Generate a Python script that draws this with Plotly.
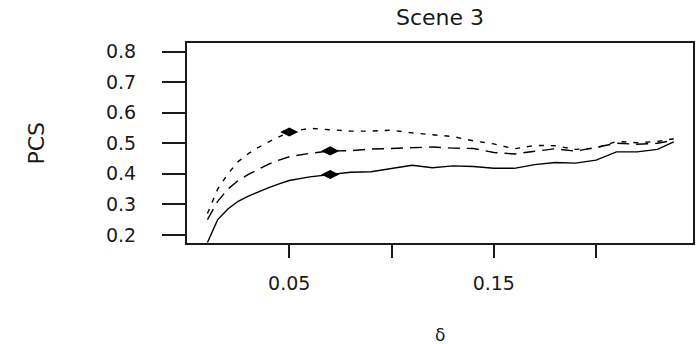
import plotly.graph_objects as go

# ---- data ----
delta = [0.01, 0.015, 0.02, 0.025, 0.03, 0.035, 0.04, 0.045, 0.05, 0.06, 0.07,
         0.08, 0.09, 0.10, 0.11, 0.12, 0.13, 0.14, 0.15, 0.16, 0.17, 0.18,
         0.19, 0.20, 0.21, 0.22, 0.23, 0.238]

pcs_solid = [0.175, 0.25, 0.285, 0.31, 0.327, 0.342, 0.355, 0.367, 0.378, 0.39, 0.398,
             0.405, 0.407, 0.418, 0.428, 0.42, 0.426, 0.424, 0.418, 0.418, 0.43, 0.437,
             0.435, 0.445, 0.472, 0.472, 0.48, 0.505]

pcs_dashed = [0.25, 0.31, 0.35, 0.378, 0.398, 0.415, 0.432, 0.445, 0.456, 0.467, 0.475,
              0.476, 0.481, 0.483, 0.486, 0.488, 0.484, 0.483, 0.47, 0.465, 0.474, 0.482,
              0.474, 0.488, 0.50, 0.497, 0.50, 0.51]

pcs_dotted = [0.27, 0.35, 0.40, 0.44, 0.466, 0.487, 0.505, 0.522, 0.537, 0.549, 0.544,
              0.54, 0.54, 0.543, 0.534, 0.528, 0.522, 0.508, 0.498, 0.482, 0.493, 0.492,
              0.48, 0.484, 0.506, 0.502, 0.506, 0.515]

marker_x = [0.07, 0.07, 0.05]
marker_y = [0.398, 0.475, 0.537]

x_tickvals = [0.05, 0.10, 0.15, 0.20]
x_ticktext = ["0.05", "", "0.15", ""]
y_tickvals = [0.2, 0.3, 0.4, 0.5, 0.6, 0.7, 0.8]
y_ticktext = ["0.2", "0.3", "0.4", "0.5", "0.6", "0.7", "0.8"]

title_text = "Scene 3"
x_label = "δ"
y_label = "PCS"

FONT = "DejaVu Sans"
INK = "#1a1a1a"

fig = go.Figure()
for ys, dash in [(pcs_solid, "solid"), (pcs_dashed, "12px,7px"), (pcs_dotted, "5px,7px")]:
    fig.add_trace(go.Scatter(x=delta, y=ys, mode="lines",
                             line=dict(color="black", width=1.4, dash=dash),
                             showlegend=False, hoverinfo="skip"))

fig.add_trace(go.Scatter(x=marker_x, y=marker_y, mode="markers",
                         marker=dict(symbol="diamond-wide", size=13, color="black"),
                         showlegend=False, hoverinfo="skip"))

fig.update_layout(
    width=698, height=344,
    margin=dict(l=187, r=3, t=43, b=101),
    paper_bgcolor="white", plot_bgcolor="white",
    font=dict(family=FONT, color=INK),
    annotations=[
        dict(text=title_text, x=0.5, y=1, xref="paper", yref="paper",
             xanchor="center", yanchor="bottom", yshift=11, showarrow=False,
             font=dict(size=22, family=FONT, color=INK)),
        dict(text=y_label, x=-(187 - 35) / 508.0, y=0.5, xref="paper", yref="paper",
             showarrow=False, textangle=-90, xanchor="center", yanchor="middle",
             font=dict(size=22, family=FONT, color=INK)),
        dict(text=x_label, x=0.5, y=0, xref="paper", yref="paper",
             xanchor="center", yanchor="top", yshift=-80, showarrow=False,
             font=dict(size=17, family=FONT, color=INK)),
    ],
)

fig.update_xaxes(range=[0.0, 0.2474], tickvals=x_tickvals, ticktext=x_ticktext,
                 ticks="outside", ticklen=13, tickwidth=2, tickcolor=INK,
                 showline=True, linecolor=INK, linewidth=2, mirror=True,
                 showgrid=False, zeroline=False, ticklabelstandoff=9,
                 tickfont=dict(size=19, family=FONT, color=INK))
fig.update_yaxes(range=[0.1734, 0.8285], tickvals=y_tickvals, ticktext=y_ticktext,
                 ticks="outside", ticklen=23, tickwidth=2, tickcolor=INK,
                 showline=True, linecolor=INK, linewidth=2, mirror=True,
                 showgrid=False, zeroline=False, ticklabelstandoff=22,
                 tickfont=dict(size=19, family=FONT, color=INK))

fig.write_html("out.html")
